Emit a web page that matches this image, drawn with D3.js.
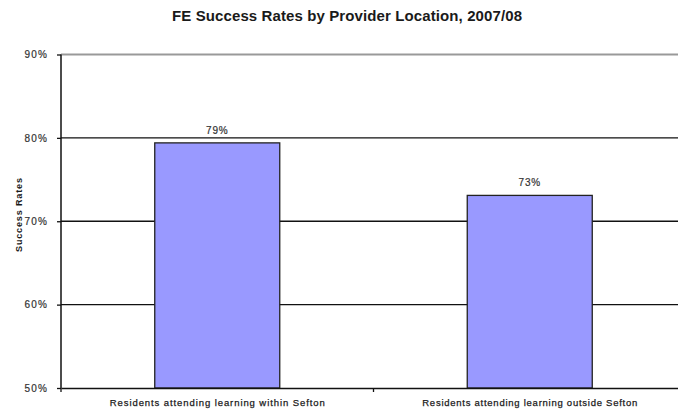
<!DOCTYPE html>
<html>
<head>
<meta charset="utf-8">
<script src="https://cdn.jsdelivr.net/npm/d3@7"></script>
<style>
  body { margin: 0; background: #fff; }
  svg { display: block; font-family: 'Liberation Sans', Arial, sans-serif; }
</style>
</head>
<body>
<svg id="chart" width="678" height="414"></svg>
<script>
const categories = ['Residents attending learning within Sefton', 'Residents attending learning outside Sefton'];
const rates = [0.794, 0.731];
const rateLabels = ['79%', '73%'];
const yTicks = [0.5, 0.6, 0.7, 0.8, 0.9];

const svg = d3.select('#chart');
const plotLeft = 61;
const plotRight = 686;
const plotTop = 54.5;
const plotBottom = 388;

const x = d3.scaleBand().domain(categories).range([plotLeft, plotRight])
  .paddingInner(0.6).paddingOuter(0.3);
const y = d3.scaleLinear().domain([0.5, 0.9]).range([plotBottom, plotTop]);

// title
svg.append('text')
  .attr('x', 347).attr('y', 21)
  .attr('text-anchor', 'middle')
  .attr('font-weight', 'bold')
  .attr('font-size', 15)
  .attr('fill', '#1a1a1a')
  .attr('textLength', 350)
  .text('FE Success Rates by Provider Location, 2007/08');

// gridlines + y axis
const yAxis = svg.append('g')
  .attr('transform', `translate(${plotLeft},0)`)
  .call(d3.axisLeft(y).tickValues(yTicks).tickFormat(d3.format('.0%')).tickSize(4).tickPadding(9));
yAxis.select('.domain').remove();
yAxis.selectAll('.tick line').attr('stroke', '#111').attr('stroke-width', 1.3);
yAxis.selectAll('.tick text')
  .attr('font-size', 10).attr('fill', '#333')
  .attr('letter-spacing', 1.2)
  .attr('stroke', '#333').attr('stroke-width', 0.2)
  .attr('font-family', 'Liberation Sans, Arial, sans-serif');

svg.append('g').selectAll('line')
  .data(yTicks.slice(1))
  .join('line')
  .attr('x1', plotLeft).attr('x2', plotRight)
  .attr('y1', d => y(d)).attr('y2', d => y(d))
  .attr('stroke', d => (d === 0.9 ? '#999' : '#111'))
  .attr('stroke-width', d => (d === 0.9 ? 2 : 1.3));

// bars
svg.append('g').selectAll('rect')
  .data(rates)
  .join('rect')
  .attr('x', (d, i) => x(categories[i]))
  .attr('y', d => y(d))
  .attr('width', x.bandwidth())
  .attr('height', d => plotBottom - y(d))
  .attr('fill', '#9999ff')
  .attr('stroke', '#222')
  .attr('stroke-width', 1.3);

// value labels
svg.append('g').selectAll('text')
  .data(rates)
  .join('text')
  .attr('x', (d, i) => x(categories[i]) + x.bandwidth() / 2)
  .attr('y', d => y(d) - 9)
  .attr('text-anchor', 'middle')
  .attr('font-size', 10)
  .attr('letter-spacing', 0.8)
  .attr('fill', '#333')
  .attr('stroke', '#333').attr('stroke-width', 0.2)
  .text((d, i) => rateLabels[i]);

// axes lines
svg.append('line')
  .attr('x1', plotLeft).attr('x2', plotLeft)
  .attr('y1', plotTop).attr('y2', plotBottom)
  .attr('stroke', '#111').attr('stroke-width', 1.5);

const xAxis = svg.append('g')
  .attr('transform', `translate(0,${plotBottom})`)
  .call(d3.axisBottom(x).tickSize(0).tickPadding(11));
xAxis.select('.domain').attr('stroke', '#111').attr('stroke-width', 1.5);
xAxis.selectAll('.tick text')
  .attr('font-size', 9.5).attr('fill', '#1a1a1a')
  .attr('stroke', '#1a1a1a').attr('stroke-width', 0.25)
  .attr('textLength', 215)
  .attr('font-family', 'Liberation Sans, Arial, sans-serif');

// category separators
svg.append('g').selectAll('line')
  .data([plotLeft, plotLeft + x.step()])
  .join('line')
  .attr('x1', d => d).attr('x2', d => d)
  .attr('y1', plotBottom).attr('y2', plotBottom + 4)
  .attr('stroke', '#111').attr('stroke-width', 1.3);

// y axis title
svg.append('text')
  .attr('transform', `translate(21.5,215) rotate(-90)`)
  .attr('text-anchor', 'middle')
  .attr('font-weight', 'bold')
  .attr('font-size', 9)
  .attr('fill', '#1a1a1a')
  .attr('textLength', 74)
  .text('Success Rates');
</script>
</body>
</html>
